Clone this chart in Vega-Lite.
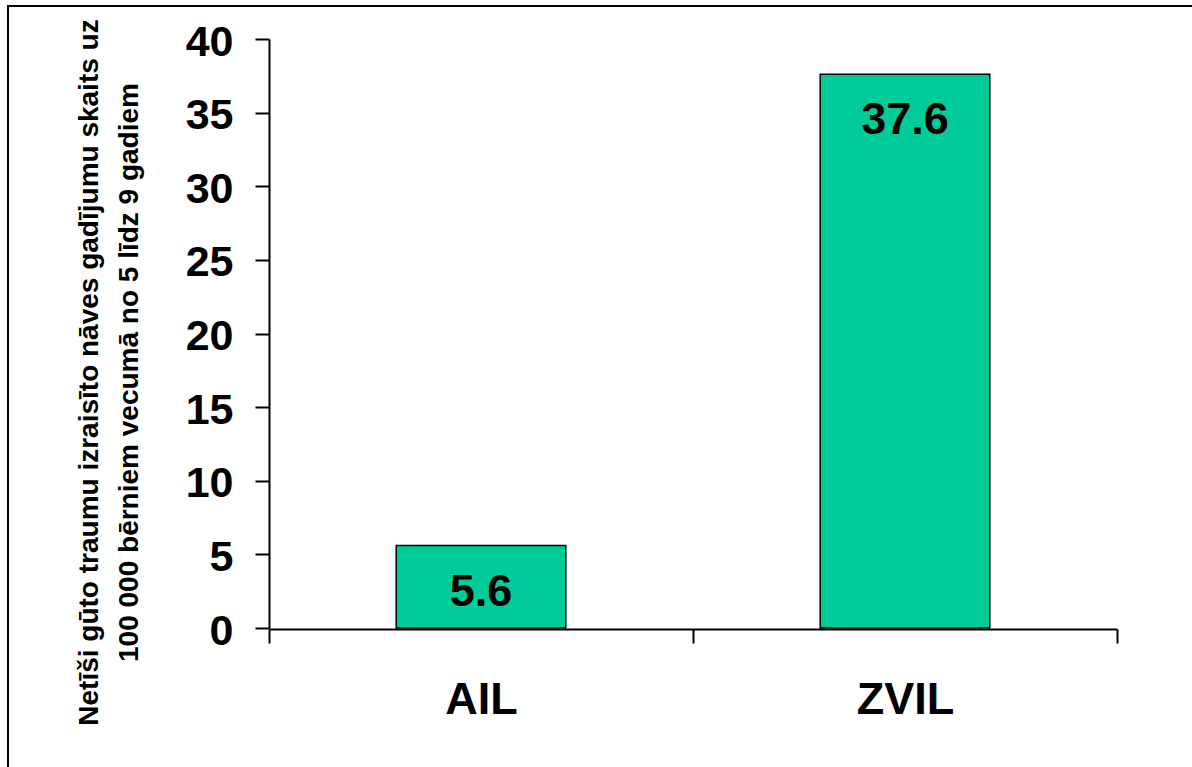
{
  "$schema": "https://vega.github.io/schema/vega-lite/v6.json",
  "width": 1194,
  "height": 771,
  "padding": {"left": 8, "top": 6, "right": -10, "bottom": -10},
  "autosize": {"type": "none"},
  "background": "white",
  "config": {
    "view": {"stroke": "black", "strokeWidth": 2},
    "font": "Liberation Sans"
  },
  "data": {
    "values": [
      {"group": "AIL", "value": 5.6},
      {"group": "ZVIL", "value": 37.6}
    ]
  },
  "encoding": {
    "x": {
      "field": "group",
      "type": "nominal",
      "sort": null,
      "scale": {"range": [261, 1109], "paddingInner": 0, "paddingOuter": 0},
      "axis": {
        "title": null,
        "offset": -148,
        "domainColor": "black",
        "domainWidth": 2,
        "tickColor": "black",
        "tickWidth": 2,
        "tickSize": 14,
        "tickBand": "extent",
        "labelFont": "Liberation Sans",
        "labelFontSize": 45,
        "labelFontWeight": "bold",
        "labelColor": "black",
        "labelAngle": 0,
        "labelBaseline": "alphabetic",
        "labelPadding": 70
      }
    },
    "y": {
      "field": "value",
      "type": "quantitative",
      "scale": {"domain": [0, 40], "range": [622, 33], "nice": false, "zero": true},
      "axis": {
        "title": ["Netīši gūto traumu izraisīto nāves gadījumu skaits uz", "100 000 bērniem vecumā no 5 līdz 9 gadiem"],
        "values": [0, 5, 10, 15, 20, 25, 30, 35, 40],
        "offset": -261,
        "grid": false,
        "domainColor": "black",
        "domainWidth": 2,
        "tickColor": "black",
        "tickWidth": 2,
        "tickSize": 14,
        "labelFont": "Liberation Sans",
        "labelFontSize": 43,
        "labelFontWeight": "bold",
        "labelColor": "black",
        "labelAlign": "right",
        "labelBaseline": "alphabetic",
        "labelOffset": 16,
        "labelPadding": 22,
        "titleFont": "Liberation Sans",
        "titleFontSize": 28,
        "titleFontWeight": "bold",
        "titleColor": "black",
        "titleLineHeight": 40,
        "titleAngle": 270,
        "titleAlign": "center",
        "titleBaseline": "alphabetic",
        "titleX": -172,
        "titleY": 366
      }
    }
  },
  "layer": [
    {
      "mark": {"type": "bar", "width": {"band": 0.4}, "fill": "#00CC99", "stroke": "black", "strokeWidth": 1.5}
    },
    {
      "mark": {"type": "text", "font": "Liberation Sans", "fontSize": 45, "fontWeight": "bold", "baseline": "alphabetic", "dy": 60, "color": "black"},
      "encoding": {"text": {"field": "value", "format": ".1f"}}
    }
  ]
}
